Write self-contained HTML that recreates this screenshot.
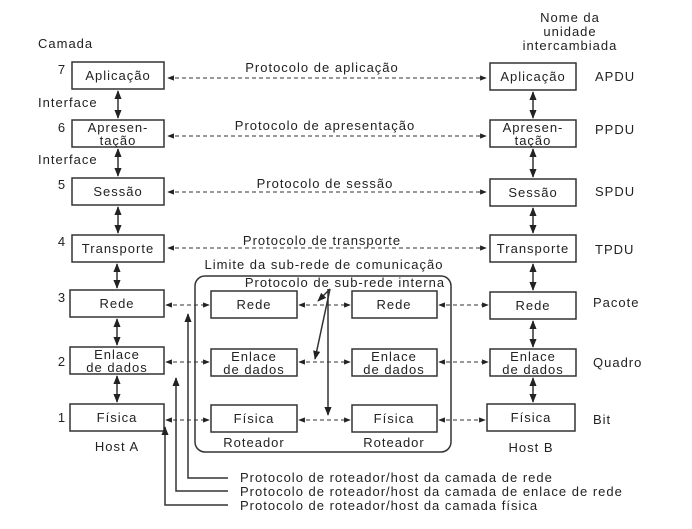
<!DOCTYPE html>
<html><head><meta charset="utf-8"><style>
body{margin:0;background:#fff}
svg{display:block}
text{font-family:"Liberation Sans",sans-serif;font-size:13px;letter-spacing:1px;fill:#222}
.b{fill:#fff;stroke:#333;stroke-width:1.5}
.d{stroke:#333;stroke-width:1.1;stroke-dasharray:4 3;fill:none}
.s{stroke:#333;stroke-width:1.5;fill:none}
</style></head><body>
<svg width="692" height="529" viewBox="0 0 692 529">
<defs>
<marker id="a" viewBox="0 0 10 10" refX="9" refY="5" markerWidth="6" markerHeight="6" orient="auto-start-reverse"><path d="M0,1L10,5L0,9z" fill="#222"/></marker>
</defs>
<text x="38" y="48">Camada</text>
<text x="38" y="107">Interface</text>
<text x="38" y="164">Interface</text>
<text x="570" y="22" text-anchor="middle">Nome da</text>
<text x="570" y="36" text-anchor="middle">unidade</text>
<text x="570" y="50" text-anchor="middle">intercambiada</text>
<g text-anchor="middle">
<text x="62" y="74">7</text><text x="62" y="132">6</text><text x="62" y="189">5</text><text x="62" y="246">4</text><text x="62" y="302">3</text><text x="62" y="366">2</text><text x="62" y="422">1</text>
<rect class="b" x="72" y="62" width="92" height="27"/><text x="118" y="80">Aplicação</text>
<rect class="b" x="72" y="120" width="92" height="27"/><text x="118" y="132">Apresen-</text><text x="118" y="145">tação</text>
<rect class="b" x="72" y="178" width="92" height="27"/><text x="118" y="196">Sessão</text>
<rect class="b" x="72" y="235" width="92" height="27"/><text x="118" y="253">Transporte</text>
<rect class="b" x="70" y="290" width="94" height="27"/><text x="117" y="308">Rede</text>
<rect class="b" x="70" y="347" width="94" height="27"/><text x="117" y="359">Enlace</text><text x="117" y="372">de dados</text>
<rect class="b" x="70" y="404" width="94" height="27"/><text x="117" y="422">Física</text>
<text x="117" y="451">Host A</text>
<rect class="b" x="490" y="63" width="86" height="27"/><text x="533" y="81">Aplicação</text>
<rect class="b" x="490" y="120" width="86" height="27"/><text x="533" y="132">Apresen-</text><text x="533" y="145">tação</text>
<rect class="b" x="490" y="179" width="86" height="27"/><text x="533" y="197">Sessão</text>
<rect class="b" x="490" y="235" width="86" height="27"/><text x="533" y="253">Transporte</text>
<rect class="b" x="490" y="292" width="86" height="27"/><text x="533" y="310">Rede</text>
<rect class="b" x="490" y="349" width="86" height="27"/><text x="533" y="361">Enlace</text><text x="533" y="374">de dados</text>
<rect class="b" x="487" y="404" width="88" height="27"/><text x="531" y="422">Física</text>
<text x="531" y="452">Host B</text>
</g>
<g>
<text x="595" y="81">APDU</text><text x="595" y="134">PPDU</text><text x="595" y="196">SPDU</text><text x="595" y="254">TPDU</text><text x="593" y="307">Pacote</text><text x="593" y="367">Quadro</text><text x="593" y="424">Bit</text>
</g>
<g text-anchor="middle">
<text x="322" y="72">Protocolo de aplicação</text>
<text x="325" y="130">Protocolo de apresentação</text>
<text x="325" y="188">Protocolo de sessão</text>
<text x="322" y="245">Protocolo de transporte</text>
<text x="324" y="269">Limite da sub-rede de comunicação</text>
<text x="345" y="287">Protocolo de sub-rede interna</text>
</g>
<path class="d" d="M168,78H486" marker-start="url(#a)" marker-end="url(#a)"/>
<path class="d" d="M168,136H486" marker-start="url(#a)" marker-end="url(#a)"/>
<path class="d" d="M168,192H486" marker-start="url(#a)" marker-end="url(#a)"/>
<path class="d" d="M168,248H486" marker-start="url(#a)" marker-end="url(#a)"/>
<g class="s">
<path d="M118,91V118" marker-start="url(#a)" marker-end="url(#a)"/>
<path d="M118,149V176" marker-start="url(#a)" marker-end="url(#a)"/>
<path d="M118,207V233" marker-start="url(#a)" marker-end="url(#a)"/>
<path d="M117,264V288" marker-start="url(#a)" marker-end="url(#a)"/>
<path d="M117,319V345" marker-start="url(#a)" marker-end="url(#a)"/>
<path d="M117,376V402" marker-start="url(#a)" marker-end="url(#a)"/>
<path d="M533,92V118" marker-start="url(#a)" marker-end="url(#a)"/>
<path d="M533,149V177" marker-start="url(#a)" marker-end="url(#a)"/>
<path d="M533,208V233" marker-start="url(#a)" marker-end="url(#a)"/>
<path d="M533,264V290" marker-start="url(#a)" marker-end="url(#a)"/>
<path d="M533,321V347" marker-start="url(#a)" marker-end="url(#a)"/>
<path d="M533,378V402" marker-start="url(#a)" marker-end="url(#a)"/>
</g>
<rect x="195" y="276" width="256" height="176" rx="10" fill="none" stroke="#333" stroke-width="1.5"/>
<g text-anchor="middle">
<rect class="b" x="211" y="291" width="86" height="27"/><text x="254" y="309">Rede</text>
<rect class="b" x="211" y="349" width="86" height="27"/><text x="254" y="361">Enlace</text><text x="254" y="374">de dados</text>
<rect class="b" x="211" y="405" width="86" height="27"/><text x="254" y="423">Física</text>
<rect class="b" x="352" y="291" width="85" height="27"/><text x="394" y="309">Rede</text>
<rect class="b" x="352" y="349" width="85" height="27"/><text x="394" y="361">Enlace</text><text x="394" y="374">de dados</text>
<rect class="b" x="352" y="405" width="85" height="27"/><text x="394" y="423">Física</text>
<text x="254" y="447">Roteador</text><text x="394" y="447">Roteador</text>
</g>
<g>
<path class="d" d="M166,305H209" marker-start="url(#a)" marker-end="url(#a)"/>
<path class="d" d="M166,362H209" marker-start="url(#a)" marker-end="url(#a)"/>
<path class="d" d="M166,420H209" marker-start="url(#a)" marker-end="url(#a)"/>
<path class="d" d="M299,305H350" marker-start="url(#a)" marker-end="url(#a)"/>
<path class="d" d="M299,362H350" marker-start="url(#a)" marker-end="url(#a)"/>
<path class="d" d="M299,420H350" marker-start="url(#a)" marker-end="url(#a)"/>
<path class="d" d="M439,305H488" marker-start="url(#a)" marker-end="url(#a)"/>
<path class="d" d="M439,362H488" marker-start="url(#a)" marker-end="url(#a)"/>
<path class="d" d="M439,420H485" marker-start="url(#a)" marker-end="url(#a)"/>
</g>
<g class="s" stroke-width="1.2">
<path d="M330,289L318,301" marker-end="url(#a)"/>
<path d="M330,289L315,359" marker-end="url(#a)"/>
<path d="M328,289V415" marker-end="url(#a)"/>
<path d="M228,478H188V314" marker-end="url(#a)"/>
<path d="M228,491H176V378" marker-end="url(#a)"/>
<path d="M228,505H165V427" marker-end="url(#a)"/>
</g>
<text x="240" y="482">Protocolo de roteador/host da camada de rede</text>
<text x="240" y="496">Protocolo de roteador/host da camada de enlace de rede</text>
<text x="240" y="510">Protocolo de roteador/host da camada física</text>
</svg>
</body></html>
